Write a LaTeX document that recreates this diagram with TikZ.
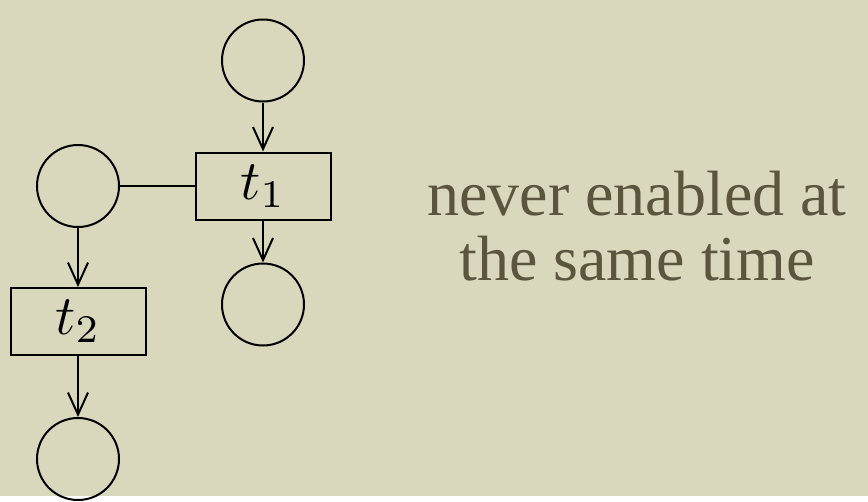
\documentclass[tikz,border=0pt]{standalone}
\usepackage{graphicx}
\usepackage{fontspec}
\newfontfamily\notefont{Liberation Serif}
\usepackage{tikz}
\usetikzlibrary{arrows.meta,positioning}

\definecolor{paper}{HTML}{D9D8BD}
\definecolor{inkbrown}{HTML}{5B5540}

\newcommand{\trlabel}[1]{\scalebox{5.6}{$#1$}}

\begin{document}
\begin{tikzpicture}[
  x=1pt, y=-1pt,
  place/.style={
    circle, draw, line width=2pt,
    minimum size=82pt, inner sep=0pt},
  trans/.style={
    rectangle, draw, line width=2pt,
    minimum width=135pt, minimum height=67pt,
    inner sep=0pt},
  arr/.style={-{Straight Barb[length=22pt,width=20pt]}, line width=2pt},
  line/.style={line width=2pt},
]
  \fill[paper] (0,0) rectangle (868,496);

  \node[trans]                   (t1) at (263,186) {\trlabel{t_1}};
  \node[place, above=49pt of t1] (p1) {};
  \node[place, below=42pt of t1] (p3) {};
  \node[place]                   (p2) at (78,186) {};
  \node[trans, below=59pt of p2] (t2) {\trlabel{t_2}};
  \node[place, below=61pt of t2] (p4) {};

  \node[text=inkbrown, align=center,
        font=\notefont\fontsize{64}{65}\selectfont] (note) at (637,226)
      {never enabled at\\the same time};

  \draw[arr]  (p1) -- (t1);
  \draw[arr]  (t1) -- (p3);
  \draw[line] (p2) -- (t1);
  \draw[arr]  (p2) -- (t2);
  \draw[arr]  (t2) -- (p4);
\end{tikzpicture}
\end{document}
